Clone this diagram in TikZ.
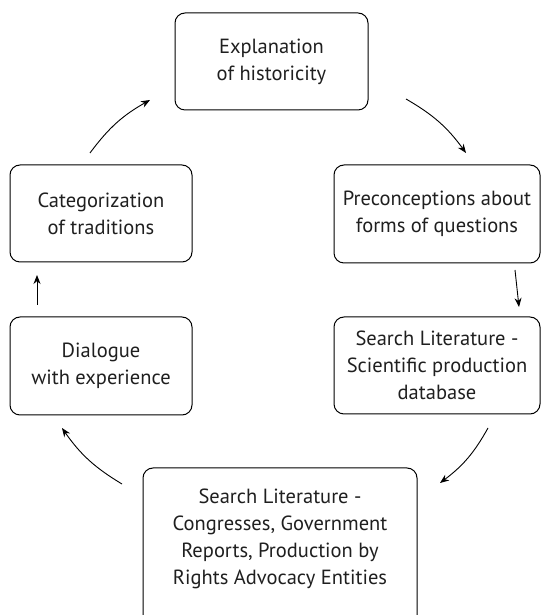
\documentclass[tikz,border=0pt]{standalone}
\usepackage{fontspec}
\setmainfont{PT Sans}
\usetikzlibrary{arrows.meta}
\begin{document}
\begin{tikzpicture}[x=1pt,y=1pt,
  box/.style={draw, rounded corners=10pt, line width=1pt, align=center,
    font=\fontsize{20.5}{27}\selectfont, text=black!88, inner sep=0pt},
  arr/.style={-{Stealth[length=9pt,width=7pt]}, line width=0.9pt}]
\useasboundingbox (0,0) rectangle (542,615);
\node[box, minimum width=193pt, minimum height=97pt] (expl) at (271.5,553.5) {Explanation\\of historicity};
\node[box, minimum width=206pt, minimum height=98pt] (pre) at (437,401) {Preconceptions about\\forms of questions};
\node[box, minimum width=206pt, minimum height=97pt] (sci) at (437,249.5) {Search Literature -\\Scientific production\\database};
\node[box, draw=none, minimum width=274pt] (bot) at (280,76) {Search Literature -\\Congresses, Government\\Reports, Production by\\Rights Advocacy Entities};
\draw[rounded corners=10pt, line width=1pt] (143,-20) rectangle (417,147);
\node[box, minimum width=182pt, minimum height=98pt] (dia) at (101,249) {Dialogue\\with experience};
\node[box, minimum width=182pt, minimum height=97pt] (cat) at (101,401.5) {Categorization\\of traditions};
\coordinate (a1s) at (90,462); \coordinate (a1e) at (150,515);
\coordinate (a2s) at (406,516); \coordinate (a2e) at (466,462);
\coordinate (a3s) at (515,345); \coordinate (a3e) at (519,308);
\coordinate (a4s) at (488,187); \coordinate (a4e) at (440,132);
\coordinate (a5s) at (122,131); \coordinate (a5e) at (62,187);
\coordinate (a6s) at (37,310); \coordinate (a6e) at (37,340);
\draw[arr] (a1s) to[bend left=12] (a1e);
\draw[arr] (a2s) to[bend left=12] (a2e);
\draw[arr] (a3s) -- (a3e);
\draw[arr] (a4s) to[bend left=12] (a4e);
\draw[arr] (a5s) to[bend left=12] (a5e);
\draw[arr] (a6s) -- (a6e);
\end{tikzpicture}
\end{document}
